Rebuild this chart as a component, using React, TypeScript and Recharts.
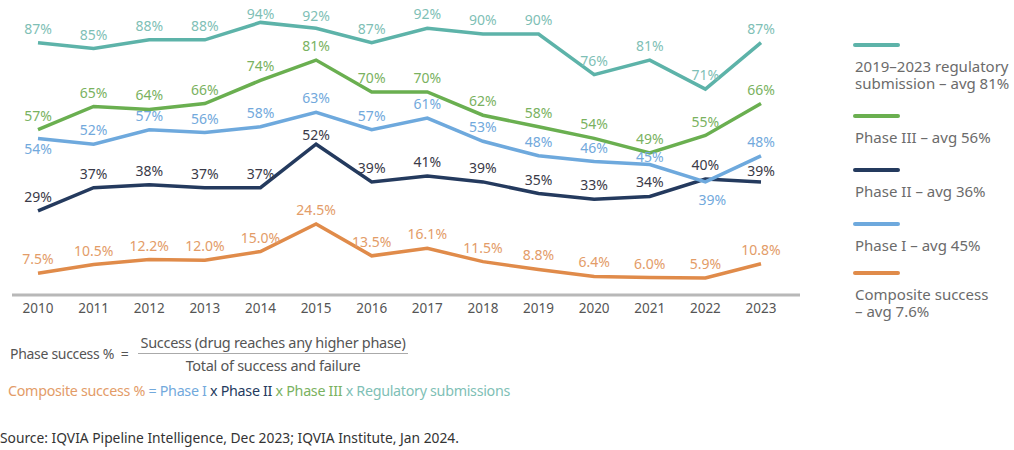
import { LineChart, Line, XAxis, YAxis, Legend, LabelList } from "recharts";

const years = ["2010", "2011", "2012", "2013", "2014", "2015", "2016", "2017", "2018", "2019", "2020", "2021", "2022", "2023"];
const regulatory = [87, 85, 88, 88, 94, 92, 87, 92, 90, 90, 76, 81, 71, 87];
const phase3 = [57, 65, 64, 66, 74, 81, 70, 70, 62, 58, 54, 49, 55, 66];
const phase2 = [29, 37, 38, 37, 37, 52, 39, 41, 39, 35, 33, 34, 40, 39];
const phase1 = [54, 52, 57, 56, 58, 63, 57, 61, 53, 48, 46, 45, 39, 48];
const composite = [7.5, 10.5, 12.2, 12.0, 15.0, 24.5, 13.5, 16.1, 11.5, 8.8, 6.4, 6.0, 5.9, 10.8];

const legendOrder = ["regulatory", "phase3", "phase2", "phase1", "composite"];

const data = years.map((year, i) => ({
  year,
  regulatory: regulatory[i],
  phase3: phase3[i],
  phase2: phase2[i],
  phase1: phase1[i],
  composite: composite[i],
}));

const FONT = "'Noto Sans', 'Open Sans', sans-serif";

// label nudges for the few labels that sit off the default "above" spot
const makeLabel =
  (color: string, decimals: number, shifts: Record<number, [number, number]> = {}) =>
  (props: any) => {
    const { x, y, value, index } = props;
    const [dx, dy] = shifts[index] ?? [0, 0];
    return (
      <text
        x={Number(x) + dx}
        y={Number(y) - 9 + dy}
        textAnchor="middle"
        fill={color}
        fontSize={14}
        fontFamily={FONT}
      >
        {Number(value).toFixed(decimals)}%
      </text>
    );
  };

const legendGaps = [22, 22, 22, 17];

const renderLegend = (props: any) => {
  const payload: any[] = props.payload ?? [];
  const items = legendOrder
    .map((key) => payload.find((p) => p.dataKey === key))
    .filter(Boolean);
  return (
    <div style={{ fontFamily: FONT }}>
      {items.map((entry: any, i: number) => (
        <div key={entry.dataKey} style={{ marginBottom: legendGaps[i] ?? 0 }}>
          <div
            style={{
              width: 47,
              height: 4,
              borderRadius: 2,
              background: entry.color,
              marginBottom: 11,
            }}
          />
          <div style={{ fontSize: 15, lineHeight: "17px", color: "#6b6b6b", whiteSpace: "pre-line", marginLeft: 2 }}>
            {entry.value}
          </div>
        </div>
      ))}
    </div>
  );
};

export default function App() {
  return (
    <div style={{ position: "absolute", left: 0, top: 0, width: 1014, height: 450, background: "#fff", fontFamily: FONT }}>
      <LineChart width={1014} height={325} data={data} margin={{ top: 5, right: 214, left: 12, bottom: 0 }}>
        <XAxis
          dataKey="year"
          padding={{ left: 26, right: 39 }}
          axisLine={{ stroke: "#b8b8b8", strokeWidth: 3 }}
          tickLine={false}
          tickSize={0}
          tickMargin={8}
          height={30}
          tick={{ fill: "#555", fontSize: 13.5, fontFamily: FONT }}
        />
        <YAxis
          domain={[0, 100]}
          width={0}
          tick={false}
          tickLine={false}
          axisLine={{ stroke: "#b8b8b8", strokeWidth: 3 }}
        />
        <Legend
          layout="vertical"
          align="center"
          verticalAlign="middle"
          content={renderLegend}
          wrapperStyle={{ left: 853, top: 43, width: 170 }}
        />
        <Line
          dataKey="regulatory"
          name={"2019–2023 regulatory\nsubmission – avg 81%"}
          stroke="#5db3a9"
          strokeWidth={3.5}
          dot={false}
          isAnimationActive={false}
        >
          <LabelList dataKey="regulatory" content={makeLabel("#7fbfb6", 0, { 4: [0, 6], 5: [0, 2] })} />
        </Line>
        <Line
          dataKey="phase3"
          name="Phase III – avg 56%"
          stroke="#6aaf50"
          strokeWidth={3.5}
          dot={false}
          isAnimationActive={false}
        >
          <LabelList dataKey="phase3" content={makeLabel("#7ab25f", 0)} />
        </Line>
        <Line
          dataKey="phase2"
          name="Phase II – avg 36%"
          stroke="#243a5e"
          strokeWidth={3.5}
          dot={false}
          isAnimationActive={false}
        >
          <LabelList dataKey="phase2" content={makeLabel("#3a3a48", 0, { 5: [0, 5], 13: [0, 3] })} />
        </Line>
        <Line
          dataKey="phase1"
          name="Phase I – avg 45%"
          stroke="#6ea9dd"
          strokeWidth={3.5}
          dot={false}
          isAnimationActive={false}
        >
          <LabelList
            dataKey="phase1"
            content={makeLabel("#72a9dc", 0, { 0: [0, 25], 11: [0, 6], 12: [7, 32] })}
          />
        </Line>
        <Line
          dataKey="composite"
          name={"Composite success\n– avg 7.6%"}
          stroke="#e08b4a"
          strokeWidth={3.5}
          dot={false}
          isAnimationActive={false}
        >
          <LabelList dataKey="composite" content={makeLabel("#e39c68", 1)} />
        </Line>
      </LineChart>

      <div style={{ position: "absolute", left: 10, top: 344, fontSize: 14, color: "#555", letterSpacing: -0.3, whiteSpace: "pre" }}>
        Phase success %  =
      </div>
      <div
        style={{
          position: "absolute",
          left: 138,
          top: 332,
          width: 270,
          textAlign: "center",
          fontSize: 14.5,
          color: "#555",
          letterSpacing: -0.3,
          lineHeight: "20px",
        }}
      >
        <div style={{ borderBottom: "1px solid #aaa", paddingBottom: 1 }}>Success (drug reaches any higher phase)</div>
        <div style={{ paddingTop: 1 }}>Total of success and failure</div>
      </div>
      <div style={{ position: "absolute", left: 8, top: 381, fontSize: 14.3, letterSpacing: -0.3, whiteSpace: "nowrap" }}>
        <span style={{ color: "#e39c68" }}>Composite success %</span>
        <span style={{ color: "#72a9dc" }}> = Phase I</span>
        <span style={{ color: "#243a5e" }}> x Phase II</span>
        <span style={{ color: "#7ab25f" }}> x Phase III</span>
        <span style={{ color: "#7fbfb6" }}> x Regulatory submissions</span>
      </div>
      <div style={{ position: "absolute", left: 0, top: 428, fontSize: 13.8, color: "#333", whiteSpace: "nowrap" }}>
        Source: IQVIA Pipeline Intelligence, Dec 2023; IQVIA Institute, Jan 2024.
      </div>
    </div>
  );
}
